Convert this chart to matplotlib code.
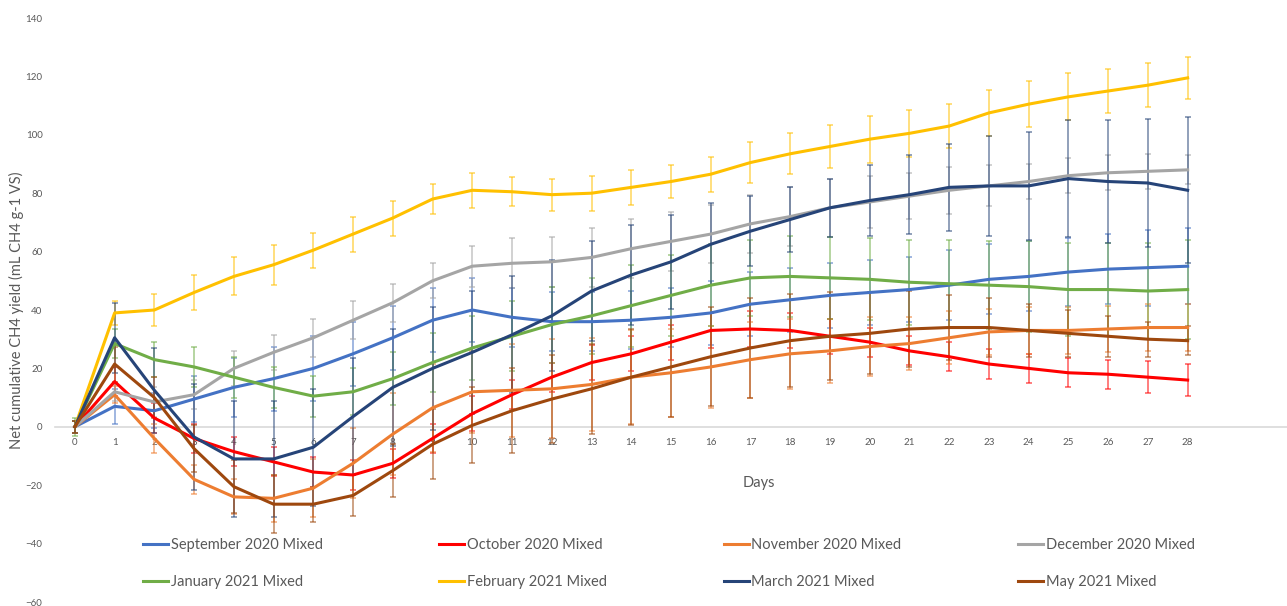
import matplotlib
matplotlib.use("Agg")
import matplotlib.pyplot as plt
import numpy as np

plt.rcParams['font.family'] = ['Lato', 'DejaVu Sans']

days = list(range(29))

labels = ["September 2020 Mixed", "October 2020 Mixed", "November 2020 Mixed", "December 2020 Mixed",
          "January 2021 Mixed", "February 2021 Mixed", "March 2021 Mixed", "May 2021 Mixed"]

sep = [0, 7, 5.5, 9.5, 13.5, 16.5, 20, 25, 30.5, 36.5, 40, 37.5, 36, 36, 36.5, 37.5, 39, 42, 43.5,
       45, 46, 47, 48.5, 50.5, 51.5, 53, 54, 54.5, 55]
oct_ = [0, 15.5, 3, -4, -8.5, -12, -15.5, -16.5, -12.5, -4, 4.5, 11, 17, 22, 25, 29, 33, 33.5, 33,
        31, 29, 26, 24, 21.5, 20, 18.5, 18, 17, 16]
nov = [0, 11, -4, -18, -24, -24.5, -21, -12.5, -2.5, 6.5, 12, 12.5, 13, 14.5, 17, 18.5, 20.5, 23, 25,
       26, 27.5, 28.5, 30.5, 32.5, 33, 33, 33.5, 34, 34]
dec = [0, 12, 8.5, 11, 20, 25.5, 30.5, 36.5, 42.5, 50, 55, 56, 56.5, 58, 61, 63.5, 66, 69.5, 72,
       75, 77, 79, 81, 82.5, 84, 86, 87, 87.5, 88]
jan = [0, 28.5, 23, 20.5, 17, 13.5, 10.5, 12, 16.5, 22, 27, 31, 35, 38, 41.5, 45, 48.5, 51, 51.5,
       51, 50.5, 49.5, 49, 48.5, 48, 47, 47, 46.5, 47]
feb = [0, 39, 40, 46, 51.5, 55.5, 60.5, 66, 71.5, 78, 81, 80.5, 79.5, 80, 82, 84, 86.5, 90.5, 93.5,
       96, 98.5, 100.5, 103, 107.5, 110.5, 113, 115, 117, 119.5]
mar = [0, 30.5, 12.5, -3.5, -11, -11, -7, 3.5, 13.5, 20, 25.5, 31.5, 38, 46.5, 52, 56.5, 62.5, 67, 71,
       75, 77.5, 79.5, 82, 82.5, 82.5, 85, 84, 83.5, 81]
may = [0, 21.5, 10, -7.5, -20.5, -26.5, -26.5, -23.5, -15, -6, 0.5, 5.5, 9.5, 13, 17, 20.5, 24, 27, 29.5,
       31, 32, 33.5, 34, 34, 33, 32, 31, 30, 29.5]

sep_err = [2, 6, 6, 8, 10, 11, 11, 11, 11, 11, 11, 10, 10, 10, 10, 10, 11, 11, 11, 11, 11, 11, 12, 12,
           12, 11.5, 12, 13, 13]
oct_err = [2, 5, 5, 5, 5, 5, 5, 5, 5, 5, 6, 5, 5, 6, 6, 6, 6, 6, 6, 6, 5, 5, 5, 5, 5, 5, 5, 5.5, 5.5]
nov_err = [2, 3, 5, 5, 6, 8, 10, 12, 14, 15, 14, 16, 17, 16, 16, 15, 14, 13, 12, 11, 10, 9, 9, 8, 8, 8,
           8, 8, 8]
dec_err = [2, 3, 5, 5, 6, 6, 6.5, 6.5, 6.5, 6, 7, 8.5, 8.5, 10, 10, 10, 10, 10, 10, 10, 9, 8, 8, 7, 6,
           6, 6, 6, 5]
jan_err = [3, 5, 6, 7, 7, 7, 7, 8, 9, 10, 11, 12, 13, 13, 14, 14, 14, 13, 14, 14, 14, 14.5, 15, 15,
           15.5, 16, 16, 16.5, 17]
feb_err = [2, 4, 5.5, 6, 6.5, 6.8, 6, 6, 6, 5, 6, 5, 5.5, 6, 6, 5.5, 6, 7, 7, 7.5, 8, 8, 7.5, 8, 7.8,
           8, 7.7, 7.6, 7.3]
mar_err = [2, 12, 14.5, 18, 20, 20, 20, 20, 20, 21, 21, 20, 19, 17, 17, 16, 14, 12, 11, 10, 12, 13.5,
           15, 17, 18.5, 20, 21, 22, 25]
may_err = [2, 6, 7, 8, 9, 10, 6, 7, 9, 12, 13, 14.5, 15, 15.5, 16.5, 17, 17, 17, 16, 15, 14, 13, 11,
           10, 9, 8, 7, 6, 5]

series = [sep, oct_, nov, dec, jan, feb, mar, may]
errors = [sep_err, oct_err, nov_err, dec_err, jan_err, feb_err, mar_err, may_err]
colors = ["#4472C4", "#FF0000", "#ED7D31", "#A5A5A5", "#70AD47", "#FFC000", "#264478", "#9E480E"]

fig = plt.figure(figsize=(12.87, 6.06), dpi=100)
ax = fig.add_axes([55 / 1287, 4 / 606, 1232 / 1287, 584 / 606])

for y, e, c in zip(series, errors, colors):
    ax.errorbar(days, y, yerr=e, fmt='none', ecolor=c, elinewidth=1.3, capsize=2.5,
                capthick=1.3, alpha=0.55, zorder=2)
handles = []
for y, c, lab in zip(series, colors, labels):
    h, = ax.plot(days, y, color=c, lw=2.2, label=lab, zorder=3)
    handles.append(h)

ax.set_xlim(-0.5, 30.5)
ax.set_ylim(-60, 140)
ax.set_yticks(range(-60, 141, 20))
ax.set_xticks(days)

for s in ['top', 'right', 'left']:
    ax.spines[s].set_visible(False)
ax.spines['bottom'].set_position(('data', 0))
ax.spines['bottom'].set_color('#d9d9d9')
ax.spines['bottom'].set_linewidth(1.2)
ax.spines['bottom'].set_zorder(1)

ax.tick_params(axis='x', length=0, pad=8, labelsize=7, labelcolor='#595959')
ax.tick_params(axis='y', length=0, pad=9, labelsize=7, labelcolor='#595959')

ax.text(17.2, -19.2, "Days", ha='center', va='center', fontsize=10.5, color='#595959')
ax.text(-0.031, 0.5, "Net cumulative CH4 yield (mL CH4 g-1 VS)", transform=ax.transAxes,
        rotation=90, ha='center', va='center', fontsize=10.5, color='#595959')

# legend fills column by column, so interleave the two rows
order = [0, 4, 1, 5, 2, 6, 3, 7]
leg = ax.legend([handles[i] for i in order], [labels[i] for i in order],
                loc='upper left', bbox_to_anchor=(143 / 1287, 1 - 538 / 606),
                bbox_transform=fig.transFigure, ncol=4, frameon=False, fontsize=10.5,
                handlelength=1.7, handletextpad=0.2, columnspacing=8.0, labelspacing=1.6,
                borderpad=0, borderaxespad=0)
for t in leg.get_texts():
    t.set_color('#595959')

fig.savefig("out.png", dpi=100)
